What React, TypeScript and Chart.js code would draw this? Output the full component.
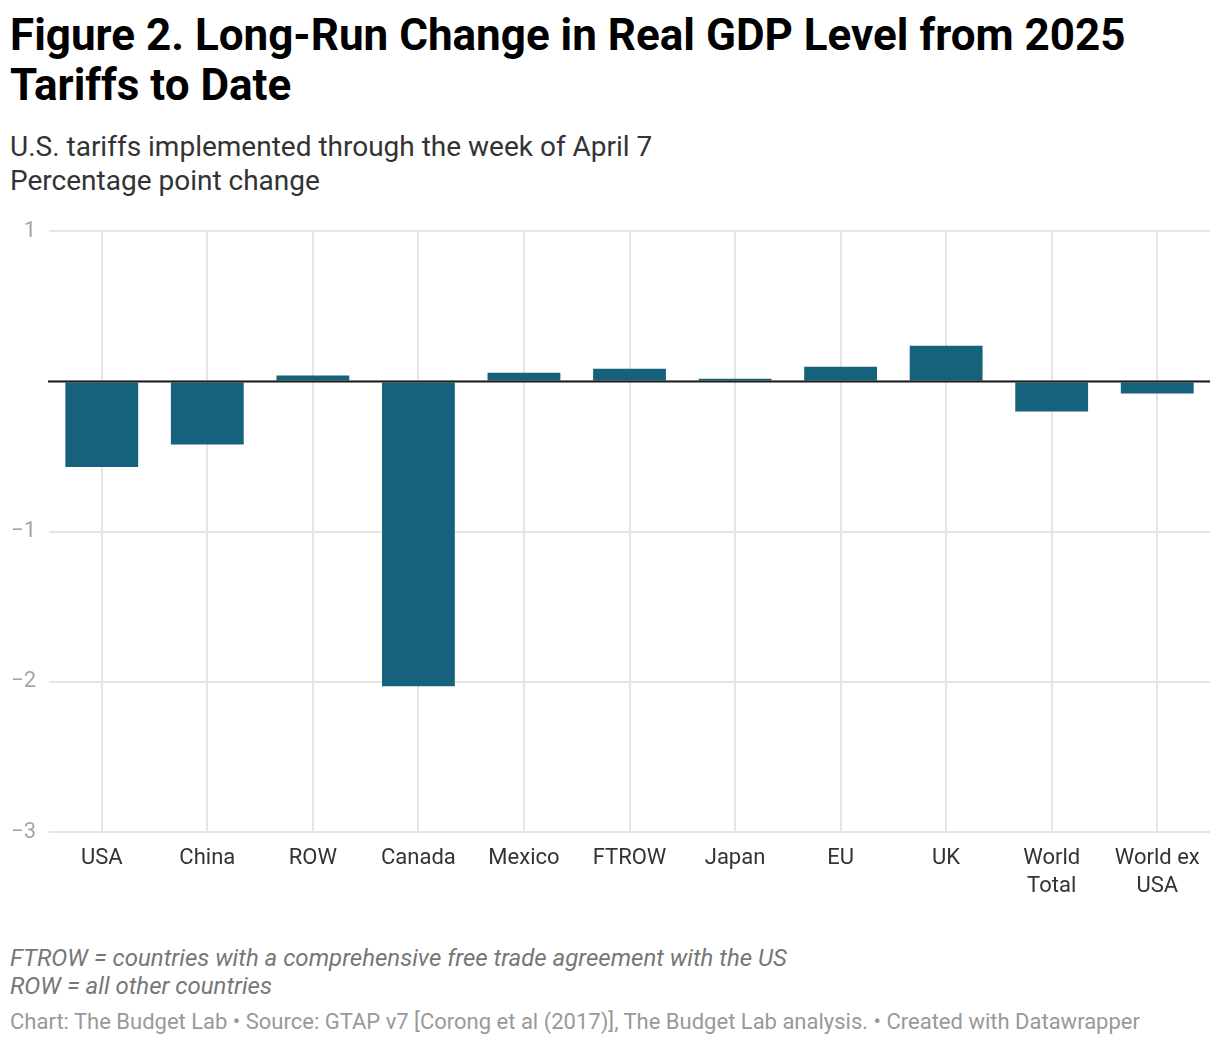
import React, { useEffect, useRef } from "react";
import { Chart, registerables } from "chart.js";

Chart.register(...registerables);

const categories: (string | string[])[] = [
  "USA", "China", "ROW", "Canada", "Mexico", "FTROW", "Japan", "EU", "UK",
  ["World", "Total"], ["World ex", "USA"],
];
const gdpChange: number[] = [-0.57, -0.42, 0.04, -2.03, 0.058, 0.085, 0.018, 0.098, 0.238, -0.2, -0.08];
const yTicks: number[] = [1, 0, -1, -2, -3];

const FONT = "Roboto, 'Noto Sans', sans-serif";

const zeroLine = {
  id: "zeroLine",
  afterDatasetsDraw(chart: any) {
    const { ctx, chartArea, scales } = chart;
    const y = scales.y.getPixelForValue(0);
    ctx.save();
    ctx.strokeStyle = "#1a1a1a";
    ctx.lineWidth = 2;
    ctx.beginPath();
    ctx.moveTo(chartArea.left - 1, y);
    ctx.lineTo(chartArea.right, y);
    ctx.stroke();
    ctx.restore();
  },
};

export default function App() {
  const ref = useRef<HTMLCanvasElement | null>(null);

  useEffect(() => {
    document.body.style.margin = "0";
    if (!ref.current) return;
    const chart = new Chart(ref.current, {
      type: "bar",
      data: {
        labels: categories,
        datasets: [
          {
            data: gdpChange,
            backgroundColor: "#16617b",
            borderWidth: 0,
            barPercentage: 0.69,
            categoryPercentage: 1,
          },
        ],
      },
      options: {
        animation: false,
        responsive: false,
        maintainAspectRatio: false,
        layout: { padding: { top: 12, right: 10, left: 0, bottom: 0 } },
        plugins: { legend: { display: false }, tooltip: { enabled: false } },
        scales: {
          x: {
            grid: { offset: false, color: "#e5e5e5", lineWidth: 2, drawTicks: false },
            border: { display: false },
            ticks: {
              color: "#333333",
              font: { family: FONT, size: 22, lineHeight: 1.27 },
              padding: 13,
              maxRotation: 0,
              autoSkip: false,
            },
            afterFit(scale: any) {
              scale.height = 78;
            },
          },
          y: {
            min: -3,
            max: 1,
            afterBuildTicks(scale: any) {
              scale.ticks = yTicks.map((v) => ({ value: v }));
            },
            grid: { color: "#e5e5e5", lineWidth: 2, drawTicks: false },
            border: { display: false },
            ticks: {
              color: "#a6a6a6",
              font: { family: FONT, size: 22 },
              padding: 13,
              callback: (v: any) => (v === 0 ? "" : v < 0 ? "\u2212" + Math.abs(v) : String(v)),
            },
            afterFit(scale: any) {
              scale.width = 49;
            },
          },
        },
      },
      plugins: [zeroLine],
    });
    return () => chart.destroy();
  }, []);

  return (
    <div style={{ position: "relative", width: 1220, height: 1046, background: "#fff", fontFamily: FONT, overflow: "hidden" }}>
      <div style={{ position: "absolute", left: 10, top: 10, width: 1200, fontSize: 44, fontWeight: 700, lineHeight: "50px", color: "#000" }}>
        Figure 2. Long-Run Change in Real GDP Level from 2025 Tariffs to Date
      </div>
      <div style={{ position: "absolute", left: 10, top: 130, fontSize: 28, lineHeight: "34px", color: "#333" }}>
        <div>U.S. tariffs implemented through the week of April 7</div>
        <div>Percentage point change</div>
      </div>
      <canvas ref={ref} width={1220} height={705} style={{ position: "absolute", left: 0, top: 205, width: 1220, height: 705 }} />
      <div style={{ position: "absolute", left: 10, top: 944, fontSize: 24, lineHeight: "28px", fontStyle: "italic", color: "#777" }}>
        <div>FTROW = countries with a comprehensive free trade agreement with the US</div>
        <div>ROW = all other countries</div>
      </div>
      <div style={{ position: "absolute", left: 10, top: 1010, fontSize: 22, lineHeight: "24px", color: "#999" }}>
        Chart: The Budget Lab • Source: GTAP v7 [Corong et al (2017)], The Budget Lab analysis. • Created with Datawrapper
      </div>
    </div>
  );
}
